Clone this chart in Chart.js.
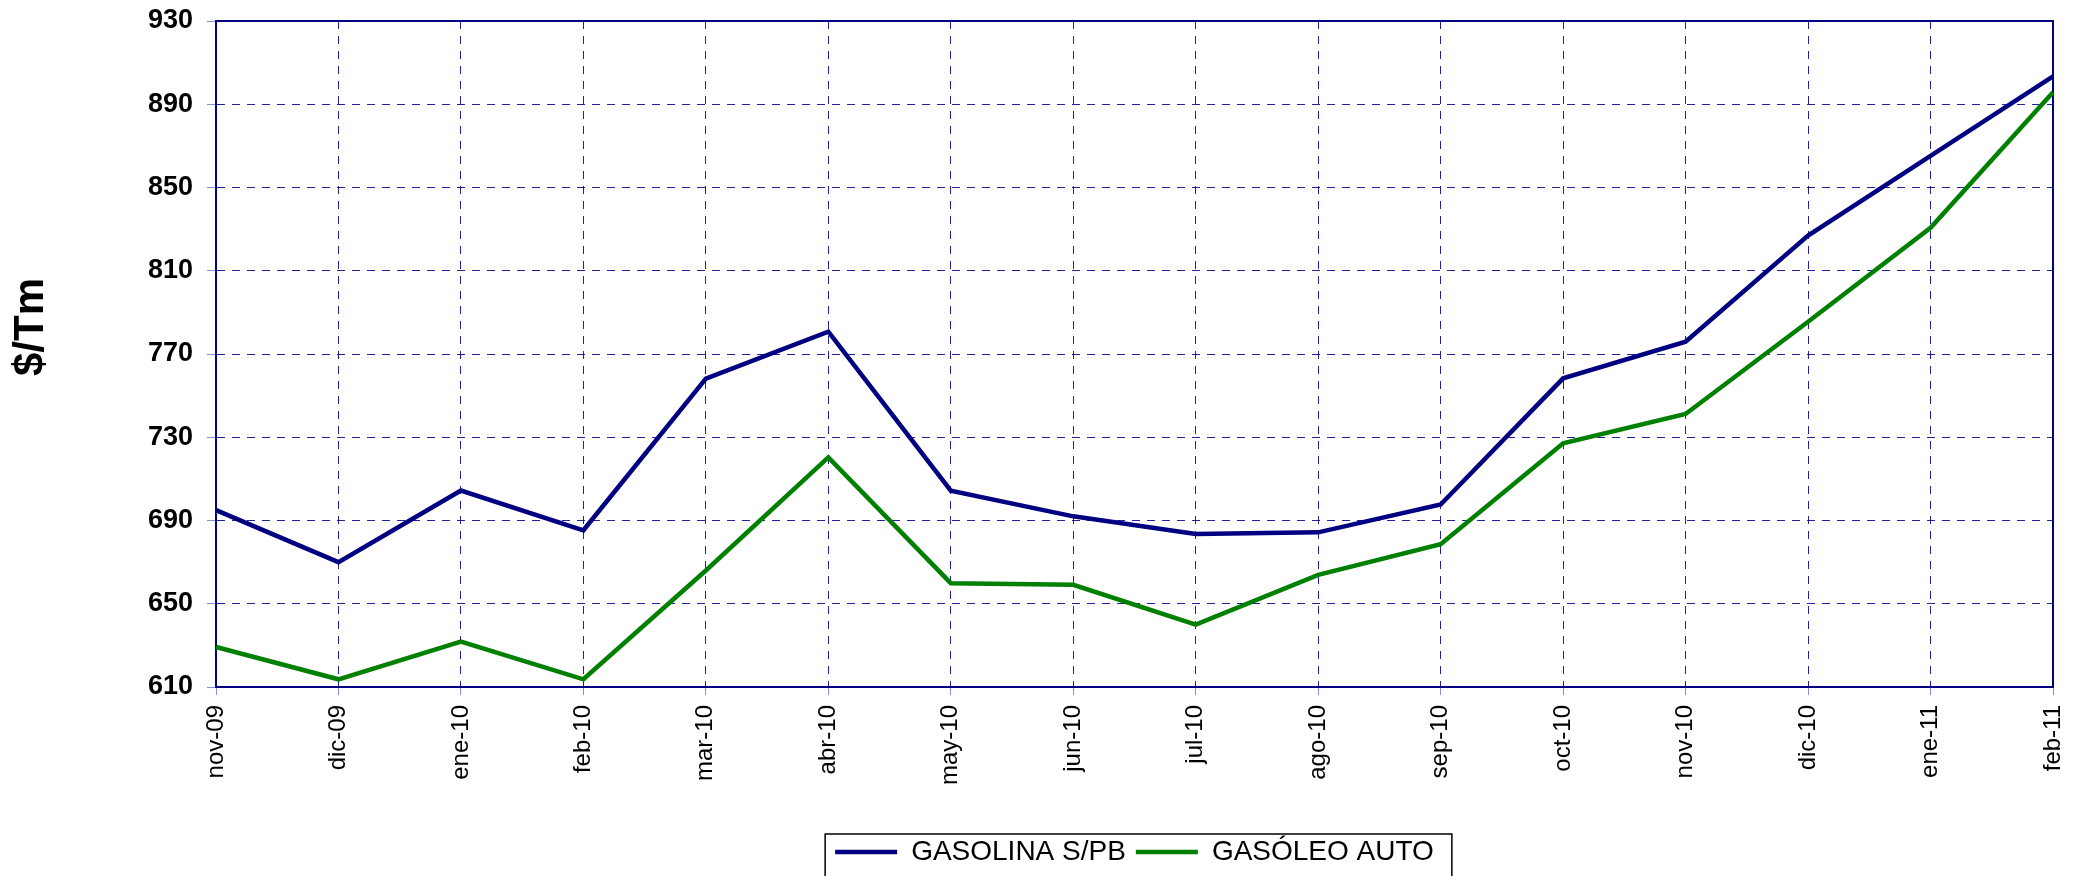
<!DOCTYPE html>
<html>
<head>
<meta charset="utf-8">
<script src="https://cdn.jsdelivr.net/npm/chart.js@4.4.0/dist/chart.umd.min.js"></script>
<style>
html,body{margin:0;padding:0;background:#fff}
#wrap{width:2080px;height:876px;position:relative}
</style>
</head>
<body>
<div id="wrap"><canvas id="myChart"></canvas></div>
<script>
// datos ($/Tm)
const meses = ['nov-09','dic-09','ene-10','feb-10','mar-10','abr-10','may-10','jun-10',
               'jul-10','ago-10','sep-10','oct-10','nov-10','dic-10','ene-11','feb-11']
const gasolina = [695, 670, 704.4, 685.3, 758.2, 780.7, 704.3, 692, 683.5, 684.3, 697.7, 758.3, 775.9, 826.9, 865.2, 903.4]
const gasoleo = [629.2, 613.7, 631.8, 613.7, 666, 720.3, 659.9, 659.1, 640, 663.9, 678.6, 727.1, 741.2, 785.5, 830.6, 895.8]
const nombres = ['GASOLINA S/PB', 'GASÓLEO AUTO']
const yMin = 610
const yMax = 930
const yPaso = 40
const tituloY = '$/Tm'

const fuente = "'Liberation Sans', Arial, sans-serif"
const azul = '#000080'
const verde = '#008000'
const rejilla = 'rgba(10, 10, 150, 0.9)'

// marco del area, titulo del eje y y recuadro de la leyenda
const marco = {
    id: 'marco',
    beforeDatasetsDraw(chart) {
        const {ctx, chartArea: a} = chart
        ctx.save()
        ctx.strokeStyle = azul
        ctx.lineWidth = 2
        ctx.strokeRect(a.left, a.top, a.right - a.left, a.bottom - a.top)
        ctx.restore()
    },
    afterDraw(chart) {
        const {ctx, chartArea: a} = chart
        ctx.save()
        ctx.translate(31, (a.top + a.bottom) / 2 - 27)
        ctx.rotate(-Math.PI / 2)
        ctx.font = 'bold 42px ' + fuente
        ctx.fillStyle = '#000'
        ctx.textAlign = 'center'
        ctx.textBaseline = 'middle'
        ctx.fillText(tituloY, 0, 0)
        ctx.restore()

        const cajas = chart.legend.legendHitBoxes
        if (!cajas || !cajas.length) return
        const primera = cajas[0]
        const ultima = cajas[cajas.length - 1]
        const x0 = primera.left - 10
        const x1 = ultima.left + ultima.width + 18
        const y0 = primera.top - 4
        ctx.save()
        ctx.strokeStyle = '#000'
        ctx.lineWidth = 1.5
        ctx.strokeRect(x0, y0, x1 - x0, chart.height + 10 - y0)
        ctx.restore()
    }
}

const data = {
    labels: meses,
    datasets: [{
        label: nombres[0],
        data: gasolina,
        borderColor: azul,
        backgroundColor: azul,
        borderWidth: 4.5,
        pointRadius: 0,
        tension: 0
    }, {
        label: nombres[1],
        data: gasoleo,
        borderColor: verde,
        backgroundColor: verde,
        borderWidth: 4.5,
        pointRadius: 0,
        tension: 0
    }]
}

const config = {
    type: 'line',
    data: data,
    plugins: [marco],
    options: {
        responsive: true,
        maintainAspectRatio: false,
        animation: false,
        layout: {
            padding: {top: 21, right: 27, bottom: 0, left: 0}
        },
        plugins: {
            tooltip: {enabled: false},
            legend: {
                position: 'bottom',
                fullSize: false,
                labels: {
                    usePointStyle: true,
                    pointStyle: 'line',
                    pointStyleWidth: 62,
                    padding: 10,
                    color: '#000',
                    font: {family: fuente, size: 28}
                }
            }
        },
        scales: {
            x: {
                offset: false,
                afterFit: (scale) => {
                    scale.height = 141
                    scale.paddingLeft = 0
                    scale.paddingRight = 0
                },
                grid: {
                    color: rejilla,
                    lineWidth: 1,
                    tickLength: 8,
                    tickColor: 'rgba(0, 0, 160, 0.45)'
                },
                border: {color: azul, width: 2, dash: [8, 7]},
                ticks: {
                    autoSkip: false,
                    minRotation: 90,
                    maxRotation: 90,
                    padding: 10,
                    color: '#000',
                    font: {family: fuente, size: 24}
                }
            },
            y: {
                min: yMin,
                max: yMax,
                afterFit: (scale) => {
                    scale.width = 216
                    scale.paddingTop = 0
                    scale.paddingBottom = 0
                },
                grid: {
                    color: rejilla,
                    lineWidth: 1,
                    tickLength: 9,
                    tickColor: 'rgba(0, 0, 160, 0.45)'
                },
                border: {color: azul, width: 2, dash: [8, 7]},
                ticks: {
                    stepSize: yPaso,
                    padding: 14,
                    color: '#000',
                    font: {family: fuente, size: 27, weight: 'bold'}
                }
            }
        }
    }
}

var myChart = new Chart(document.getElementById('myChart'), config)
</script>
</body>
</html>
